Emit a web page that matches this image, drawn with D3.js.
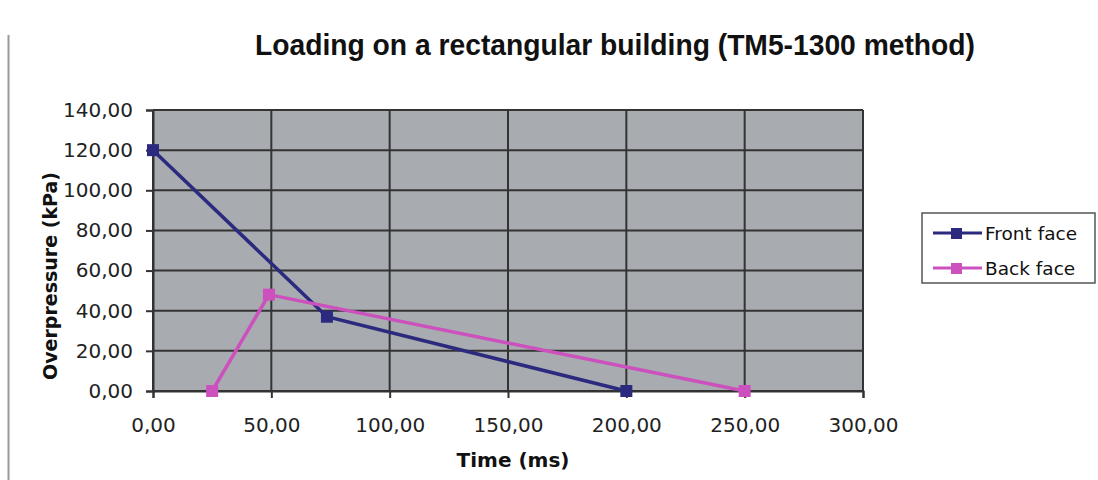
<!DOCTYPE html>
<html>
<head>
<meta charset="utf-8">
<script src="https://cdn.jsdelivr.net/npm/d3@7"></script>
<style>
  body { margin: 0; background: #fff; }
  text { font-family: "DejaVu Sans", Arial, sans-serif; }
</style>
</head>
<body>
<svg id="chart" width="1098" height="480"></svg>
<script>
const frontTime = [0, 73.5, 200];
const frontPressure = [120, 37, 0];
const backTime = [25, 49, 250];
const backPressure = [0, 48, 0];
const xTicks = [0, 50, 100, 150, 200, 250, 300];
const yTicks = [0, 20, 40, 60, 80, 100, 120, 140];
const seriesNames = ["Front face", "Back face"];

const margin = { top: 110, left: 153, right: 235, bottom: 89 };
const width = 1098 - margin.left - margin.right,
      height = 480 - margin.top - margin.bottom;

const svg = d3.select("#chart");

// thin frame line on the left
svg.append("line")
  .attr("x1", 8.5).attr("x2", 8.5).attr("y1", 35).attr("y2", 480)
  .style("stroke", "#999").style("stroke-width", 2);

svg.append("text")
  .attr("x", 615).attr("y", 55)
  .attr("text-anchor", "middle")
  .attr("textLength", 720).attr("lengthAdjust", "spacingAndGlyphs")
  .style("font-family", "'Liberation Sans', Arial, sans-serif")
  .style("font-size", "30px").style("font-weight", "bold").style("fill", "#111")
  .text("Loading on a rectangular building (TM5-1300 method)");

const g = svg.append("g").attr("transform", `translate(${margin.left},${margin.top})`);

const x = d3.scaleLinear().domain([0, 300]).range([0, width]);
const y = d3.scaleLinear().domain([0, 140]).range([height, 0]);
const fmt = d => d3.format(".2f")(d).replace(".", ",");

g.append("rect")
  .attr("width", width).attr("height", height)
  .style("fill", "#a8abaf");

// grid
g.selectAll(".hgrid").data(yTicks).enter().append("line")
  .attr("x1", 0).attr("x2", width)
  .attr("y1", d => y(d)).attr("y2", d => y(d))
  .style("stroke", "#333").style("stroke-width", 2);
g.selectAll(".vgrid").data(xTicks).enter().append("line")
  .attr("x1", d => x(d)).attr("x2", d => x(d))
  .attr("y1", 0).attr("y2", height)
  .style("stroke", "#333").style("stroke-width", 2);

const xAxis = g.append("g")
  .attr("transform", `translate(0,${height})`)
  .call(d3.axisBottom(x).tickValues(xTicks).tickFormat(fmt).tickSize(7).tickPadding(20));
const yAxis = g.append("g")
  .call(d3.axisLeft(y).tickValues(yTicks).tickFormat(fmt).tickSize(7).tickPadding(13));

[xAxis, yAxis].forEach(a => {
  a.select(".domain").style("stroke", "#333").style("stroke-width", 2);
  a.selectAll(".tick line").style("stroke", "#333").style("stroke-width", 2);
  a.selectAll("text").style("font-size", "20px").style("fill", "#222")
    .style("font-family", "'DejaVu Sans', Arial, sans-serif");
});

svg.append("text")
  .attr("x", 513).attr("y", 467)
  .attr("text-anchor", "middle")
  .style("font-size", "20px").style("font-weight", "bold").style("fill", "#111")
  .text("Time (ms)");

svg.append("text")
  .attr("transform", `translate(57,276) rotate(-90)`)
  .attr("text-anchor", "middle")
  .style("font-size", "19px").style("font-weight", "bold").style("fill", "#111")
  .text("Overpressure (kPa)");

const colors = ["#2b2a7e", "#cc50bd"];
const series = [
  frontTime.map((t, i) => ({ t, p: frontPressure[i] })),
  backTime.map((t, i) => ({ t, p: backPressure[i] }))
];
const line = d3.line().x(d => x(d.t)).y(d => y(d.p));

series.forEach((s, i) => {
  g.append("path").datum(s)
    .attr("d", line)
    .style("fill", "none").style("stroke", colors[i]).style("stroke-width", 3.5);
  g.selectAll(".m" + i).data(s).enter().append("rect")
    .attr("x", d => x(d.t) - 6).attr("y", d => y(d.p) - 6)
    .attr("width", 12).attr("height", 12)
    .style("fill", colors[i]);
});

// legend
const lg = svg.append("g").attr("transform", "translate(922,213)");
lg.append("rect").attr("width", 173).attr("height", 70)
  .style("fill", "#fff").style("stroke", "#555").style("stroke-width", 1.5);
seriesNames.forEach((name, i) => {
  const yy = 20 + i * 35;
  lg.append("line").attr("x1", 11).attr("x2", 60).attr("y1", yy).attr("y2", yy)
    .style("stroke", colors[i]).style("stroke-width", 3);
  lg.append("rect").attr("x", 29).attr("y", yy - 5).attr("width", 11).attr("height", 11)
    .style("fill", colors[i]);
  lg.append("text").attr("x", 63).attr("y", yy + 7)
    .style("font-size", "18.5px").style("fill", "#111")
    .text(name);
});
</script>
</body>
</html>
